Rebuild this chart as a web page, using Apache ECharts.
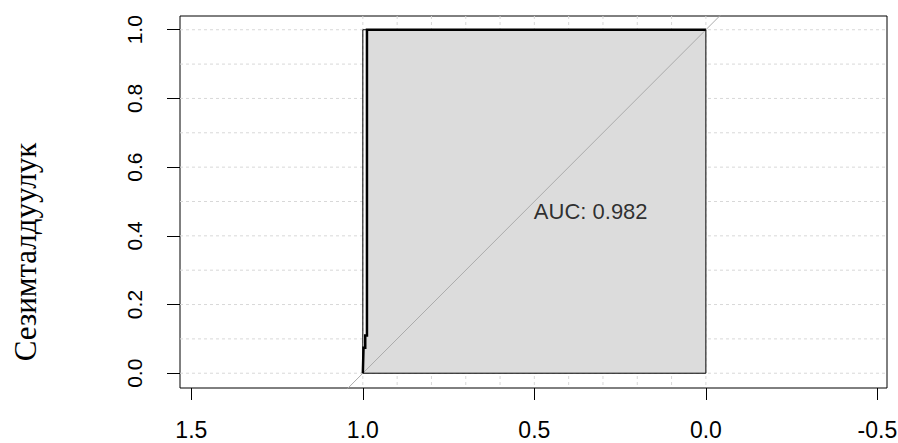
<!DOCTYPE html>
<html>
<head>
<meta charset="utf-8">
<style>
  html, body { margin: 0; padding: 0; background: #fff; }
  #chart { width: 898px; height: 443px; }
</style>
<script src="https://cdn.jsdelivr.net/npm/echarts@6/dist/echarts.min.js"></script>
</head>
<body>
<div id="chart"></div>
<script>
// ---- data ----
const specificity = [1, 0.998, 0.998, 0.993, 0.993, 0.988, 0.988, 0];
const sensitivity = [0, 0, 0.074, 0.074, 0.11, 0.11, 1, 1];
const maxAucCorners = [[1, 0], [1, 1], [0, 1], [0, 0]];
const identityLine = [[1.6, -0.6], [-0.6, 1.6]];
const xTicks = [1.5, 1.0, 0.5, 0.0, -0.5];
const yTicks = [0.0, 0.2, 0.4, 0.6, 0.8, 1.0];
const gridValuesX = [0, 0.1, 0.2, 0.3, 0.4, 0.5, 0.6, 0.7, 0.8, 0.9, 1.0];
const gridValuesY = [0, 0.1, 0.2, 0.3, 0.4, 0.5, 0.6, 0.7, 0.8, 0.9, 1.0];
const aucLabel = 'AUC: 0.982';
const aucLabelPos = [0.5, 0.5];
const yTitle = 'Сезимталдуулук';

const rocPoints = specificity.map((s, i) => [s, sensitivity[i]]);

const chart = echarts.init(document.getElementById('chart'), null, { renderer: 'svg' });

const gridRows = gridValuesY.map(v => ['h', v]).concat(gridValuesX.map(v => ['v', v]));

const option = {
  animation: false,
  backgroundColor: '#fff',
  grid: {
    left: 180, right: 11, top: 16, bottom: 55,
    containLabel: false,
    outerBoundsMode: 'none',
    show: true, borderColor: '#000', borderWidth: 1, backgroundColor: 'transparent'
  },
  xAxis: {
    type: 'value',
    inverse: true,
    position: 'bottom',
    min: -0.528, max: 1.533,
    axisLine: { show: false, onZero: false },
    splitLine: { show: false },
    axisTick: { show: true, inside: false, length: 12, lineStyle: { color: '#000', width: 1 }, customValues: xTicks },
    axisLabel: {
      customValues: xTicks,
      margin: 30,
      color: '#000',
      fontFamily: 'Liberation Sans, Arial, sans-serif',
      fontSize: 23,
      formatter: v => Number(v).toFixed(1)
    }
  },
  yAxis: {
    type: 'value',
    position: 'left',
    min: -0.043, max: 1.04,
    axisLine: { show: false, onZero: false },
    splitLine: { show: false },
    axisTick: { show: true, inside: false, length: 13, lineStyle: { color: '#000', width: 1 }, customValues: yTicks },
    axisLabel: {
      customValues: yTicks,
      rotate: 90,
      margin: 35,
      color: '#000',
      fontFamily: 'Liberation Sans, Arial, sans-serif',
      fontSize: 21,
      formatter: v => Number(v).toFixed(1)
    },
    name: yTitle,
    nameLocation: 'middle',
    nameRotate: 90,
    nameGap: 139,
    nameTextStyle: {
      color: '#000',
      fontFamily: 'Liberation Serif, Times New Roman, serif',
      fontSize: 31,
      padding: [0, 100, 0, 0]
    }
  },
  series: [
    {
      type: 'custom',
      name: 'grid',
      z: 1,
      silent: true,
      data: gridRows,
      renderItem: (params, api) => {
        const cs = params.coordSys;
        const kind = gridRows[params.dataIndex][0];
        const v = gridRows[params.dataIndex][1];
        let shape;
        if (kind === 'h') {
          const y = api.coord([0, v])[1];
          shape = { x1: cs.x, y1: y, x2: cs.x + cs.width, y2: y };
        } else {
          const x = api.coord([v, 0])[0];
          shape = { x1: x, y1: cs.y, x2: x, y2: cs.y + cs.height };
        }
        return {
          type: 'line', shape,
          style: { stroke: '#d8d8d8', lineWidth: 1, lineDash: [3, 3] }
        };
      }
    },
    {
      type: 'custom',
      name: 'aucPolygon',
      z: 2,
      silent: true,
      data: [0],
      renderItem: (params, api) => ({
        type: 'polygon',
        shape: { points: rocPoints.map(p => api.coord(p)).concat([api.coord([0, 0])]) },
        style: { fill: '#DCDCDC', stroke: 'none' }
      })
    },
    {
      type: 'custom',
      name: 'maxAuc',
      z: 3,
      silent: true,
      data: [0],
      renderItem: (params, api) => ({
        type: 'polygon',
        shape: { points: maxAucCorners.map(p => api.coord(p)) },
        style: { fill: 'none', stroke: '#000', lineWidth: 1 }
      })
    },
    {
      type: 'line',
      name: 'identity',
      z: 4,
      silent: true,
      clip: true,
      symbol: 'none',
      data: identityLine,
      lineStyle: { color: '#ababab', width: 1 }
    },
    {
      type: 'line',
      name: 'roc',
      z: 5,
      silent: true,
      symbol: 'none',
      data: rocPoints,
      lineStyle: { color: '#000', width: 2.5, join: 'miter' }
    },
    {
      type: 'scatter',
      name: 'auc',
      z: 6,
      silent: true,
      symbolSize: 1,
      itemStyle: { color: 'transparent' },
      data: [aucLabelPos],
      label: {
        show: true,
        position: [0, 0],
        align: 'left',
        verticalAlign: 'top',
        formatter: aucLabel,
        color: '#000',
        fontFamily: 'Liberation Sans, Arial, sans-serif',
        fontSize: 22
      }
    }
  ]
};

chart.setOption(option);
</script>
</body>
</html>
